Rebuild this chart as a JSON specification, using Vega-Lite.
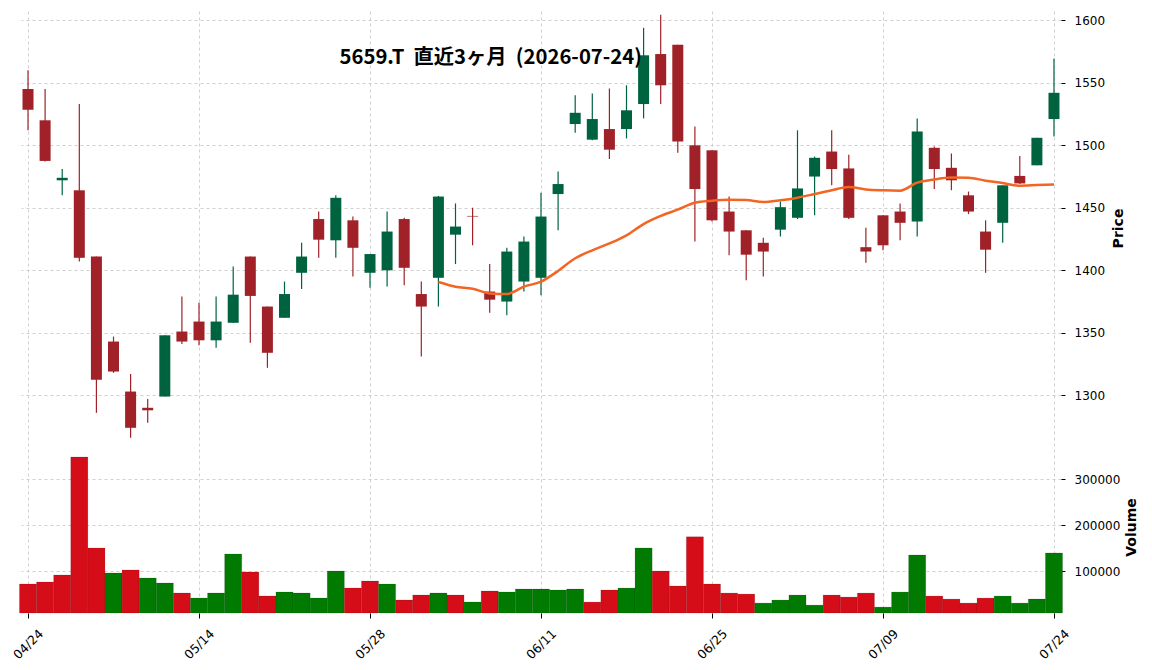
{
  "$schema": "https://vega.github.io/schema/vega-lite/v6.json",
  "width": 1040,
  "height": 602,
  "autosize": {"type": "none"},
  "padding": {"left": 21, "top": 11, "right": 91, "bottom": 57},
  "background": "white",
  "config": {"view": {"stroke": null}, "font": "DejaVu Sans"},
  "data": {"values": [
    {"date": "04/24", "open": 1545, "high": 1560, "low": 1512, "close": 1528.5, "volume": 72400, "vdir": "down"},
    {"date": "04/27", "open": 1520, "high": 1545, "low": 1487, "close": 1487.5, "volume": 76700, "vdir": "down"},
    {"date": "04/28", "open": 1472, "high": 1481, "low": 1460, "close": 1474, "volume": 92000, "vdir": "down"},
    {"date": "04/30", "open": 1464, "high": 1533, "low": 1407, "close": 1410, "volume": 348500, "vdir": "down"},
    {"date": "05/01", "open": 1411, "high": 1411, "low": 1286, "close": 1312.5, "volume": 150600, "vdir": "down"},
    {"date": "05/07", "open": 1343, "high": 1347, "low": 1318, "close": 1319, "volume": 96300, "vdir": "up"},
    {"date": "05/08", "open": 1303, "high": 1317, "low": 1266, "close": 1274, "volume": 102800, "vdir": "down"},
    {"date": "05/11", "open": 1290, "high": 1297, "low": 1278, "close": 1288, "volume": 85400, "vdir": "up"},
    {"date": "05/12", "open": 1299, "high": 1348, "low": 1299, "close": 1348, "volume": 74600, "vdir": "up"},
    {"date": "05/13", "open": 1351, "high": 1379, "low": 1341, "close": 1343, "volume": 52800, "vdir": "down"},
    {"date": "05/14", "open": 1359, "high": 1374, "low": 1340, "close": 1344, "volume": 42000, "vdir": "up"},
    {"date": "05/15", "open": 1344, "high": 1379, "low": 1338, "close": 1359, "volume": 52800, "vdir": "up"},
    {"date": "05/18", "open": 1358, "high": 1403, "low": 1358, "close": 1380.5, "volume": 137600, "vdir": "up"},
    {"date": "05/19", "open": 1411, "high": 1411, "low": 1342, "close": 1379.5, "volume": 98500, "vdir": "down"},
    {"date": "05/20", "open": 1371, "high": 1371, "low": 1322, "close": 1334, "volume": 46300, "vdir": "down"},
    {"date": "05/21", "open": 1362, "high": 1391, "low": 1362, "close": 1381, "volume": 55000, "vdir": "up"},
    {"date": "05/22", "open": 1398, "high": 1422, "low": 1385, "close": 1411, "volume": 52800, "vdir": "up"},
    {"date": "05/25", "open": 1441, "high": 1447, "low": 1410, "close": 1424.5, "volume": 42000, "vdir": "up"},
    {"date": "05/26", "open": 1424, "high": 1460, "low": 1410, "close": 1458, "volume": 100700, "vdir": "up"},
    {"date": "05/27", "open": 1440, "high": 1443, "low": 1395, "close": 1418, "volume": 63700, "vdir": "down"},
    {"date": "05/28", "open": 1398, "high": 1413, "low": 1386, "close": 1413, "volume": 78900, "vdir": "down"},
    {"date": "05/29", "open": 1400, "high": 1447, "low": 1387, "close": 1431, "volume": 72400, "vdir": "up"},
    {"date": "06/01", "open": 1441, "high": 1442, "low": 1388, "close": 1402, "volume": 37600, "vdir": "down"},
    {"date": "06/02", "open": 1381, "high": 1391, "low": 1331, "close": 1371, "volume": 48500, "vdir": "down"},
    {"date": "06/03", "open": 1394, "high": 1459.5, "low": 1371, "close": 1459, "volume": 52800, "vdir": "up", "ma": 1390.6},
    {"date": "06/04", "open": 1428.5, "high": 1453.5, "low": 1405, "close": 1435, "volume": 48500, "vdir": "down", "ma": 1386.9},
    {"date": "06/05", "open": 1443.5, "high": 1450, "low": 1420, "close": 1443, "volume": 33300, "vdir": "up", "ma": 1385.3},
    {"date": "06/08", "open": 1383, "high": 1405, "low": 1366, "close": 1376.5, "volume": 57200, "vdir": "down", "ma": 1381.5},
    {"date": "06/09", "open": 1375, "high": 1418, "low": 1364, "close": 1415, "volume": 55000, "vdir": "up", "ma": 1381.0},
    {"date": "06/10", "open": 1391, "high": 1427, "low": 1383, "close": 1423, "volume": 61500, "vdir": "up", "ma": 1386.9},
    {"date": "06/11", "open": 1394, "high": 1462, "low": 1380, "close": 1443, "volume": 61500, "vdir": "up", "ma": 1391.0},
    {"date": "06/12", "open": 1461, "high": 1479, "low": 1432, "close": 1469, "volume": 59300, "vdir": "up", "ma": 1399.5},
    {"date": "06/15", "open": 1517, "high": 1540, "low": 1510, "close": 1526, "volume": 61500, "vdir": "up", "ma": 1409.6},
    {"date": "06/16", "open": 1504.5, "high": 1541.5, "low": 1504, "close": 1521, "volume": 33100, "vdir": "down", "ma": 1416.0},
    {"date": "06/17", "open": 1513, "high": 1545.5, "low": 1489, "close": 1496.5, "volume": 59300, "vdir": "down", "ma": 1421.5},
    {"date": "06/18", "open": 1513, "high": 1548, "low": 1505.5, "close": 1528, "volume": 63600, "vdir": "up", "ma": 1428.0},
    {"date": "06/19", "open": 1533, "high": 1594, "low": 1521.5, "close": 1572, "volume": 150900, "vdir": "up", "ma": 1437.0},
    {"date": "06/22", "open": 1573, "high": 1604.5, "low": 1533, "close": 1548, "volume": 100700, "vdir": "down", "ma": 1443.5},
    {"date": "06/23", "open": 1580.5, "high": 1580.5, "low": 1494, "close": 1503, "volume": 68000, "vdir": "down", "ma": 1448.5},
    {"date": "06/24", "open": 1500, "high": 1515, "low": 1423, "close": 1465, "volume": 174900, "vdir": "down", "ma": 1454.0},
    {"date": "06/25", "open": 1496, "high": 1496, "low": 1439, "close": 1440, "volume": 72400, "vdir": "down", "ma": 1455.7},
    {"date": "06/26", "open": 1447, "high": 1459, "low": 1412, "close": 1431, "volume": 52700, "vdir": "down", "ma": 1456.5},
    {"date": "06/29", "open": 1432, "high": 1432, "low": 1392, "close": 1412.5, "volume": 50500, "vdir": "down", "ma": 1456.2},
    {"date": "06/30", "open": 1422, "high": 1426, "low": 1395, "close": 1415, "volume": 30900, "vdir": "up", "ma": 1454.6},
    {"date": "07/01", "open": 1432.5, "high": 1455, "low": 1427, "close": 1450.5, "volume": 37500, "vdir": "up", "ma": 1456.0},
    {"date": "07/02", "open": 1442, "high": 1512, "low": 1441, "close": 1465.5, "volume": 48400, "vdir": "up", "ma": 1458.1},
    {"date": "07/03", "open": 1475, "high": 1491, "low": 1444, "close": 1490, "volume": 26500, "vdir": "up", "ma": 1461.0},
    {"date": "07/06", "open": 1495, "high": 1512, "low": 1468, "close": 1481, "volume": 48400, "vdir": "down", "ma": 1464.0},
    {"date": "07/07", "open": 1481.5, "high": 1492.5, "low": 1441, "close": 1442, "volume": 44000, "vdir": "down", "ma": 1466.6},
    {"date": "07/08", "open": 1418.5, "high": 1434, "low": 1406, "close": 1415, "volume": 52700, "vdir": "down", "ma": 1464.7},
    {"date": "07/09", "open": 1444, "high": 1444, "low": 1416, "close": 1420, "volume": 22200, "vdir": "up", "ma": 1464.0},
    {"date": "07/10", "open": 1447, "high": 1453.5, "low": 1424, "close": 1438, "volume": 54900, "vdir": "up", "ma": 1463.7},
    {"date": "07/13", "open": 1439, "high": 1521.5, "low": 1427, "close": 1511, "volume": 135600, "vdir": "up", "ma": 1470.1},
    {"date": "07/14", "open": 1498, "high": 1499, "low": 1465, "close": 1481, "volume": 46200, "vdir": "down", "ma": 1472.7},
    {"date": "07/15", "open": 1482, "high": 1493.5, "low": 1464, "close": 1472, "volume": 39600, "vdir": "down", "ma": 1474.3},
    {"date": "07/16", "open": 1460, "high": 1463, "low": 1445, "close": 1447, "volume": 30900, "vdir": "down", "ma": 1474.1},
    {"date": "07/17", "open": 1431, "high": 1440, "low": 1398, "close": 1416.5, "volume": 41800, "vdir": "down", "ma": 1471.7},
    {"date": "07/21", "open": 1438, "high": 1468, "low": 1422, "close": 1468, "volume": 46200, "vdir": "up", "ma": 1469.8},
    {"date": "07/22", "open": 1475.5, "high": 1491.5, "low": 1469, "close": 1469.5, "volume": 30900, "vdir": "up", "ma": 1467.7},
    {"date": "07/23", "open": 1484, "high": 1506, "low": 1484, "close": 1506, "volume": 39600, "vdir": "up", "ma": 1468.2},
    {"date": "07/24", "open": 1521, "high": 1569.5, "low": 1507, "close": 1542, "volume": 140000, "vdir": "up", "ma": 1468.7}
  ]},
  "encoding": {
    "x": {
      "field": "date", "type": "ordinal",
      "scale": {"type": "point", "padding": 0.41},
      "axis": {
        "values": ["04/24", "05/14", "05/28", "06/11", "06/25", "07/09", "07/24"],
        "title": null, "grid": true, "gridDash": [3, 3], "gridColor": "#c4c4c4", "gridWidth": 0.8,
        "domain": false, "ticks": true, "tickSize": 5, "tickColor": "#000000", "tickWidth": 1,
        "labelAngle": -45, "labelAlign": "center", "labelBaseline": "middle", "labelPadding": 26,
        "labelFont": "DejaVu Sans", "labelFontSize": 12.5, "labelColor": "#000000"
      }
    }
  },
  "layer": [
    {
      "layer": [
        {
          "mark": {"type": "rule", "strokeWidth": 1.2},
          "encoding": {
            "y": {"field": "low", "type": "quantitative",
              "scale": {"domain": [1125.84, 1607.44], "nice": false, "zero": false},
              "axis": {"orient": "right", "values": [1300, 1350, 1400, 1450, 1500, 1550, 1600], "format": "d",
                "grid": true, "gridDash": [3, 3], "gridColor": "#c4c4c4", "gridWidth": 0.8,
                "domain": false, "tickSize": 4, "tickColor": "#000000", "labelPadding": 9,
                "labelFont": "DejaVu Sans", "labelFontSize": 12, "labelColor": "#000000",
                "title": "Price", "titleFont": "DejaVu Sans", "titleFontSize": 14, "titleFontWeight": "bold",
                "titleColor": "#000000", "titleAngle": 270, "titleX": 57, "titleY": 217,
                "titleAlign": "center", "titleBaseline": "middle"}},
            "y2": {"field": "high"},
            "color": {"condition": {"test": "datum.close >= datum.open", "value": "#006340"}, "value": "#a02128"}
          }
        },
        {
          "mark": {"type": "bar", "size": 11},
          "encoding": {
            "y": {"field": "open", "type": "quantitative",
              "scale": {"domain": [1125.84, 1607.44], "nice": false, "zero": false},
              "axis": {"orient": "right", "values": [1300, 1350, 1400, 1450, 1500, 1550, 1600], "format": "d",
                "grid": true, "gridDash": [3, 3], "gridColor": "#c4c4c4", "gridWidth": 0.8,
                "domain": false, "tickSize": 4, "tickColor": "#000000", "labelPadding": 9,
                "labelFont": "DejaVu Sans", "labelFontSize": 12, "labelColor": "#000000",
                "title": "Price", "titleFont": "DejaVu Sans", "titleFontSize": 14, "titleFontWeight": "bold",
                "titleColor": "#000000", "titleAngle": 270, "titleX": 57, "titleY": 217,
                "titleAlign": "center", "titleBaseline": "middle"}},
            "y2": {"field": "close"},
            "color": {"condition": {"test": "datum.close >= datum.open", "value": "#006340"}, "value": "#a02128"}
          }
        },
        {
          "transform": [{"filter": "isValid(datum.ma)"}],
          "mark": {"type": "line", "color": "#f26522", "strokeWidth": 2.5, "interpolate": "monotone"},
          "encoding": {
            "y": {"field": "ma", "type": "quantitative",
              "scale": {"domain": [1125.84, 1607.44], "nice": false, "zero": false},
              "axis": {"orient": "right", "values": [1300, 1350, 1400, 1450, 1500, 1550, 1600], "format": "d",
                "grid": true, "gridDash": [3, 3], "gridColor": "#c4c4c4", "gridWidth": 0.8,
                "domain": false, "tickSize": 4, "tickColor": "#000000", "labelPadding": 9,
                "labelFont": "DejaVu Sans", "labelFontSize": 12, "labelColor": "#000000",
                "title": "Price", "titleFont": "DejaVu Sans", "titleFontSize": 14, "titleFontWeight": "bold",
                "titleColor": "#000000", "titleAngle": 270, "titleX": 57, "titleY": 217,
                "titleAlign": "center", "titleBaseline": "middle"}}
          }
        },
        {
          "data": {"values": [{"t": "5659.T\u00a0 直近3ヶ月\u00a0 (2026-07-24)"}]},
          "mark": {"type": "text", "font": "Noto Sans CJK JP", "fontSize": 20.3, "fontWeight": "bold", "color": "#000000", "align": "center", "baseline": "middle", "dx": 1},
          "encoding": {
            "x": {"datum": "06/08"},
            "y": {"datum": 1569.8},
            "text": {"field": "t"}
          }
        }
      ]
    },
    {
      "mark": {"type": "bar", "size": 17.1, "stroke": "#000000", "strokeOpacity": 0.2, "strokeWidth": 0.6},
      "encoding": {
        "y": {"field": "volume", "type": "quantitative",
          "scale": {"domain": [9348, 1318043], "nice": false, "zero": false},
          "axis": {"orient": "right", "values": [100000, 200000, 300000], "format": "d",
            "grid": true, "gridDash": [3, 3], "gridColor": "#c4c4c4", "gridWidth": 0.8,
            "domain": false, "tickSize": 4, "tickColor": "#000000", "labelPadding": 9,
            "labelFont": "DejaVu Sans", "labelFontSize": 12, "labelColor": "#000000",
            "title": "Volume", "titleFont": "DejaVu Sans", "titleFontSize": 14, "titleFontWeight": "bold",
            "titleColor": "#000000", "titleAngle": 270, "titleX": 70, "titleY": 516,
            "titleAlign": "center", "titleBaseline": "middle"}},
        "y2": {"datum": 9348},
        "color": {"field": "vdir", "type": "nominal",
          "scale": {"domain": ["up", "down"], "range": ["#007a00", "#d50d18"]}, "legend": null}
      }
    }
  ],
  "resolve": {"scale": {"y": "independent"}}
}
